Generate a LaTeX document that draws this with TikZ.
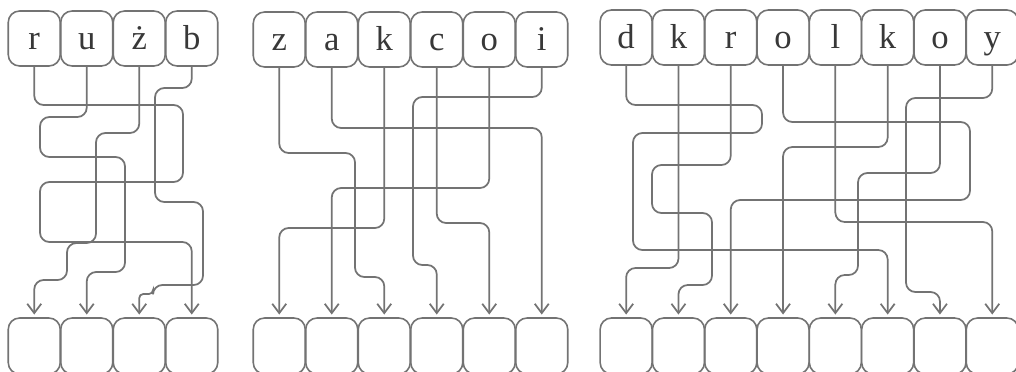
\documentclass[tikz,border=0pt]{standalone}
\usepackage{fontspec}
\setmainfont{Liberation Serif}
\usepackage{tikz}
\usetikzlibrary{arrows.meta}
\definecolor{wiregray}{RGB}{115,115,115}

\begin{document}
\begin{tikzpicture}[x=0.75pt,y=0.75pt,yscale=-1,xscale=1,
	letterbox/.style={draw=wiregray, line width=1.2pt, rounded corners=8.5pt, minimum width=39pt, minimum height=41.25pt, inner sep=0pt, font=\fontsize{26}{26}\selectfont, text height=18pt, text depth=1.5pt, text=black!78},
	emptybox/.style={draw=wiregray, line width=1.2pt, rounded corners=8.5pt, minimum width=39pt, minimum height=42pt, inner sep=0pt},
	wire/.style={draw=wiregray, line width=1.3pt, rounded corners=7pt, -{Straight Barb[length=7pt,width=10.5pt]}, shorten >=2pt}]
	\useasboundingbox (0,0) rectangle (1016,371);
	
	% Text Node
	\node [letterbox] (w1r) at (34.25,38.5) {r};
	\node [letterbox] (w1u) at (86.75,38.5) {u};
	\node [letterbox] (w1z) at (139.25,38.5) {ż};
	\node [letterbox] (w1b) at (191.75,38.5) {b};
	% Text Node
	\node [letterbox] (w2z) at (279.25,39.5) {z};
	\node [letterbox] (w2a) at (331.75,39.5) {a};
	\node [letterbox] (w2k) at (384.25,39.5) {k};
	\node [letterbox] (w2c) at (436.75,39.5) {c};
	\node [letterbox] (w2o) at (489.25,39.5) {o};
	\node [letterbox] (w2i) at (541.75,39.5) {i};
	% Text Node
	\node [letterbox] (w3d) at (626.15,37.5) {d};
	\node [letterbox] (w3k) at (678.45,37.5) {k};
	\node [letterbox] (w3r) at (730.75,37.5) {r};
	\node [letterbox] (w3o) at (783.05,37.5) {o};
	\node [letterbox] (w3l) at (835.35,37.5) {l};
	\node [letterbox] (w3kk) at (887.65,37.5) {k};
	\node [letterbox] (w3oo) at (939.95,37.5) {o};
	\node [letterbox] (w3y) at (992.25,37.5) {y};
	
	%Shape: Rounded Rect
	\node [emptybox] (e11) at (34.25,346) {};
	\node [emptybox] (e12) at (86.75,346) {};
	\node [emptybox] (e13) at (139.25,346) {};
	\node [emptybox] (e14) at (191.75,346) {};
	%Shape: Rounded Rect
	\node [emptybox] (e21) at (279.25,346) {};
	\node [emptybox] (e22) at (331.75,346) {};
	\node [emptybox] (e23) at (384.25,346) {};
	\node [emptybox] (e24) at (436.75,346) {};
	\node [emptybox] (e25) at (489.25,346) {};
	\node [emptybox] (e26) at (541.75,346) {};
	%Shape: Rounded Rect
	\node [emptybox] (e31) at (626.15,346) {};
	\node [emptybox] (e32) at (678.45,346) {};
	\node [emptybox] (e33) at (730.75,346) {};
	\node [emptybox] (e34) at (783.05,346) {};
	\node [emptybox] (e35) at (835.35,346) {};
	\node [emptybox] (e36) at (887.65,346) {};
	\node [emptybox] (e37) at (939.95,346) {};
	\node [emptybox] (e38) at (992.25,346) {};
	
	%Connectors: ruzb
	\draw [wire] (w1r.south) |- (183,105) |- (40,182) -- (40,242) -| (e14.north) ;
	\draw [wire] (w1u.south) |- (40,117) |- (125,157) -- (125,272) -| (e12.north) ;
	\draw [wire] (w1z.south) |- (96,133) |- (67,243) -- (67,280) -| (e11.north) ;
	\draw [wire] (w1b.south) |- (155,88) |- (203,202) |- (153,285) [rounded corners=3pt] -- (153,294) -| (e13.north) ;
	
	%Connectors: zakcoi
	\draw [wire] (w2z.south) |- (355,153) -- (355,277) -| (e23.north) ;
	\draw [wire] (w2a.south) |- (541.75,128) -- (e26.north) ;
	\draw [wire] (w2k.south) -- (384.25,228) -| (e21.north) ;
	\draw [wire] (w2c.south) -- (436.75,223) -| (e25.north) ;
	\draw [wire] (w2o.south) -- (489.25,188) -| (e22.north) ;
	\draw [wire] (w2i.south) |- (413,97) -- (413,265) -| (e24.north) ;
	
	%Connectors: dkrolkoy
	\draw [wire] (w3d.south) |- (762,105) |- (633,133) -- (633,250) -| (e36.north) ;
	\draw [wire] (w3k.south) -- (678.45,268) -| (e31.north) ;
	\draw [wire] (w3r.south) |- (652,165) |- (712,213) -- (712,285) -| (e32.north) ;
	\draw [wire] (w3o.south) |- (970,122) -- (970,200) -| (e33.north) ;
	\draw [wire] (w3l.south) -- (835.35,222) -| (e38.north) ;
	\draw [wire] (w3kk.south) -- (887.65,147) -| (e34.north) ;
	\draw [wire] (w3oo.south) |- (858,173) -- (858,275) -| (e35.north) ;
	\draw [wire] (w3y.south) |- (906,98) -- (906,292) -| (e37.north) ;
	
\end{tikzpicture}
\end{document}
